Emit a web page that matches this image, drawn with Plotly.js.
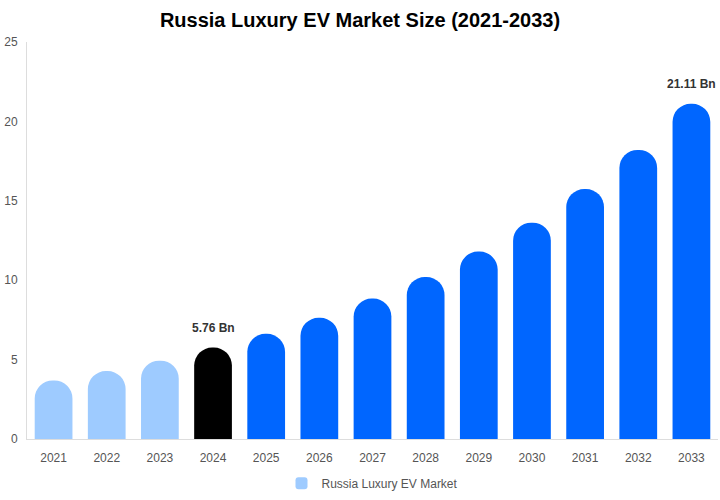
<!DOCTYPE html>
<html>
<head>
<meta charset="utf-8">
<script src="https://cdn.plot.ly/plotly-3.0.1.min.js"></script>
<style>
  html, body { margin: 0; padding: 0; background: #fff; }
  #chart { width: 720px; height: 500px; }
</style>
</head>
<body>
<div id="chart"></div>
<script>
// values
var years = ["2021", "2022", "2023", "2024", "2025", "2026", "2027",
             "2028", "2029", "2030", "2031", "2032", "2033"];
var market_size = [3.69, 4.28, 4.93, 5.76, 6.62, 7.63, 8.84,
                   10.2, 11.8, 13.62, 15.74, 18.2, 21.11];
var bar_labels = ["", "", "", "5.76 Bn", "", "", "", "", "", "", "", "", "21.11 Bn"];

var past_color = "#9ecbff";
var now_color = "#000000";
var future_color = "#0066ff";

var bar_colors = years.map(function (y) {
    var n = parseInt(y);
    if (n < 2024) return past_color;
    if (n === 2024) return now_color;
    return future_color;
});

var trace = {
    type: "bar",
    name: "Russia Luxury EV Market",
    x: years,
    y: market_size,
    marker: { color: bar_colors, cornerradius: "50%" },
    hoverinfo: "x+y",
    showlegend: true
};

// value labels above the highlighted bars
// (x is the category index, a plain "2024" string gets read as a number)
var label_notes = [];
for (let i = 0; i < years.length; i++) {
    if (!bar_labels[i]) continue;
    label_notes.push({
        x: i,
        y: market_size[i],
        text: "<b>" + bar_labels[i] + "</b>",
        showarrow: false,
        yanchor: "bottom",
        yshift: 11,
        font: { family: "Liberation Sans, Arial, sans-serif", size: 12, color: "#333333" }
    });
}

var layout = {
    width: 720,
    height: 500,
    margin: { l: 27, r: 2, t: 42, b: 53 },
    paper_bgcolor: "#ffffff",
    plot_bgcolor: "#ffffff",
    font: { family: "Liberation Sans, Arial, sans-serif", size: 12, color: "#555555" },
    title: {
        text: "<b>Russia Luxury EV Market Size (2021-2033)</b>",
        font: { family: "Liberation Sans, Arial, sans-serif", size: 20, color: "#000000" },
        x: 0.5,
        xanchor: "center",
        y: 0.96,
        yanchor: "middle"
    },
    bargap: 0.29,
    annotations: label_notes,
    xaxis: {
        type: "category",
        showgrid: false,
        showline: true,
        linecolor: "#dddddd",
        linewidth: 1,
        ticks: "",
        tickfont: { size: 12, color: "#555555" },
        ticklabelstandoff: 8
    },
    yaxis: {
        range: [0, 25],
        dtick: 5,
        showgrid: false,
        zeroline: false,
        showline: true,
        linecolor: "#dddddd",
        linewidth: 1,
        ticks: "",
        tickfont: { size: 12, color: "#555555" },
        ticklabelstandoff: 6
    },
    showlegend: true,
    legend: {
        orientation: "h",
        x: 0.5,
        xanchor: "center",
        y: -0.075,
        yanchor: "top",
        font: { size: 12, color: "#555555" }
    }
};

Plotly.newPlot("chart", [trace], layout, { staticPlot: true, responsive: false });
</script>
</body>
</html>
